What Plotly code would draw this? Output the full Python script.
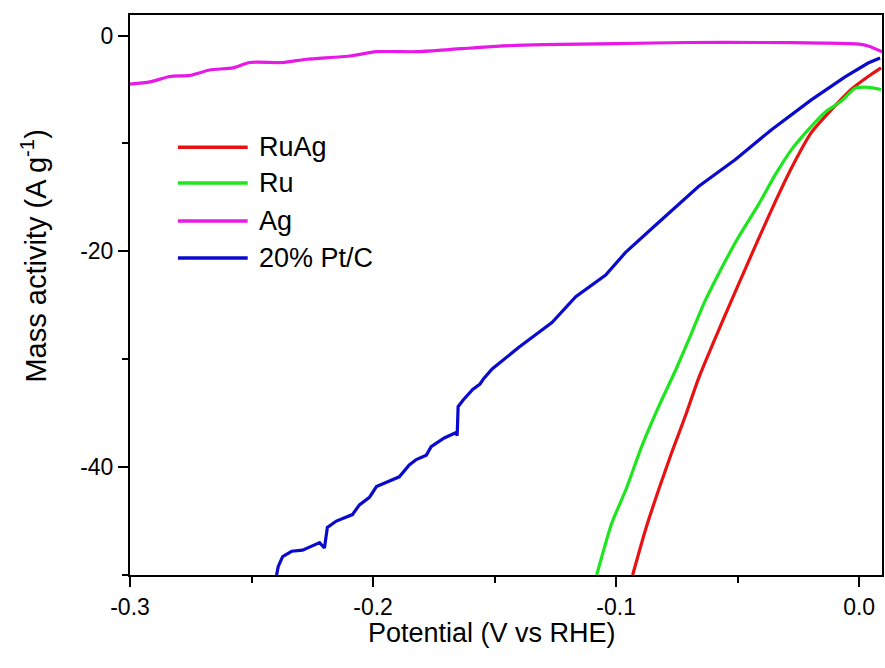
import plotly.graph_objects as go

# Linear sweep voltammetry: mass activity vs potential
ruag_v = [-0.0932, -0.0879, -0.0825, -0.0772, -0.0714, -0.0661, -0.0591, -0.0530,
          -0.0468, -0.0415, -0.0345, -0.0279, -0.0197, -0.0115, -0.0033, 0.0037, 0.0090]
ruag_j = [-50.0, -45.8, -42.1, -38.7, -35.2, -31.8, -28.0, -24.8,
          -21.6, -18.9, -15.4, -12.3, -9.0, -6.9, -5.0, -3.8, -3.0]

ru_v = [-0.1080, -0.1018, -0.0960, -0.0895, -0.0825, -0.0755, -0.0690, -0.0640,
        -0.0567, -0.0497, -0.0415, -0.0345, -0.0279, -0.0210, -0.0140, -0.0074,
        -0.0017, 0.0037, 0.0090]
ru_j = [-50.0, -45.2, -42.1, -38.1, -34.4, -31.0, -27.6, -24.9,
        -21.6, -18.7, -15.7, -12.9, -10.6, -8.75, -7.1, -6.1,
        -4.9, -4.8, -5.0]

ag_v = [-0.3000, -0.2918, -0.2836, -0.2754, -0.2672, -0.2577, -0.2508, -0.2372,
        -0.2274, -0.2097, -0.1986, -0.1822, -0.1687, -0.1494, -0.1300, -0.1000,
        -0.0700, -0.0400, -0.0150, 0.0000, 0.0040, 0.0094]
ag_j = [-4.5, -4.3, -3.8, -3.7, -3.2, -3.0, -2.5, -2.5,
        -2.2, -1.9, -1.5, -1.5, -1.3, -1.0, -0.85, -0.75,
        -0.65, -0.65, -0.7, -0.8, -1.0, -1.5]

ptc_v = [-0.2397, -0.2390, -0.2372, -0.2335, -0.2290, -0.2261, -0.2220, -0.2200,
         -0.2188, -0.2151, -0.2085, -0.2056, -0.2015, -0.1986, -0.1954, -0.1892,
         -0.1851, -0.1822, -0.1781, -0.1761, -0.1707, -0.1658, -0.1654, -0.1650,
         -0.1630, -0.1590, -0.1560, -0.1545, -0.1510, -0.1400, -0.1264, -0.1166,
         -0.1043, -0.0961, -0.0829, -0.0661, -0.0509, -0.0362, -0.0197, -0.0058,
         0.0037, 0.0086]
ptc_j = [-50.0, -49.2, -48.3, -47.8, -47.7, -47.4, -47.0, -47.5,
         -45.6, -45.0, -44.4, -43.5, -42.8, -41.8, -41.5, -40.9,
         -39.8, -39.3, -38.9, -38.1, -37.3, -36.8, -37.1, -34.4,
         -33.8, -32.8, -32.3, -31.8, -30.9, -28.9, -26.6, -24.2,
         -22.2, -20.1, -17.4, -14.0, -11.5, -8.75, -5.97, -3.84,
         -2.55, -2.08]

series = [
    ("RuAg", ruag_v, ruag_j, "#E81212", "spline"),
    ("Ru", ru_v, ru_j, "#1EE61E", "spline"),
    ("Ag", ag_v, ag_j, "#E619E6", "spline"),
    ("20% Pt/C", ptc_v, ptc_j, "#0A0ACD", "linear"),
]

x_ticks = [-0.3, -0.2, -0.1, 0.0]
x_tick_text = ["-0.3", "-0.2", "-0.1", "0.0"]
y_ticks = [0, -20, -40]
y_tick_text = ["0", "-20", "-40"]

FONT = "Arial, Liberation Sans, sans-serif"

fig = go.Figure()
for name, v, j, c, shape in series:
    fig.add_trace(go.Scatter(x=v, y=j, mode="lines", name=name,
                             line=dict(color=c, width=3.2, shape=shape, smoothing=0.6),
                             showlegend=False))

# Hand-placed legend: colored line samples plus labels
leg_y = [0.764, 0.700, 0.632, 0.566]
shapes, annots = [], []
for (name, _, _, c, _), yy in zip(series, leg_y):
    shapes.append(dict(type="line", xref="paper", yref="paper",
                       x0=0.0637, x1=0.1565, y0=yy, y1=yy,
                       line=dict(color=c, width=3.5)))
    annots.append(dict(xref="paper", yref="paper", x=0.1684, y=yy, text=name,
                       showarrow=False, xanchor="left", yanchor="middle",
                       font=dict(size=27, color="black", family=FONT)))

# Axis titles
annots.append(dict(xref="paper", yref="paper", x=0.481, y=-0.1036,
                   text="Potential (V vs RHE)", showarrow=False,
                   xanchor="center", yanchor="middle",
                   font=dict(size=27, color="black", family=FONT)))
annots.append(dict(xref="paper", yref="paper", x=-0.128, y=0.570,
                   text="Mass activity (A g<sup>-1</sup>)", showarrow=False,
                   textangle=-90, xanchor="center", yanchor="middle",
                   font=dict(size=29, color="black", family=FONT)))

fig.update_layout(
    width=885, height=668,
    margin=dict(l=130, r=1, t=15, b=93),
    paper_bgcolor="white", plot_bgcolor="white",
    font=dict(family=FONT, color="black"),
    shapes=shapes, annotations=annots,
)
fig.update_xaxes(
    range=[-0.3, 0.0094], tickvals=x_ticks, ticktext=x_tick_text,
    ticks="outside", ticklen=10, tickwidth=2, tickcolor="black",
    minor=dict(dtick=0.05, tick0=-0.3, ticks="outside", ticklen=6, tickwidth=2, tickcolor="black"),
    showline=True, linewidth=2, linecolor="black", mirror=True,
    showgrid=False, zeroline=False, tickfont=dict(size=23),
)
fig.update_yaxes(
    range=[-50, 1.9], tickvals=y_ticks, ticktext=y_tick_text,
    ticks="outside", ticklen=10, tickwidth=2, tickcolor="black",
    minor=dict(dtick=10, tick0=0, ticks="outside", ticklen=6, tickwidth=2, tickcolor="black"),
    showline=True, linewidth=2, linecolor="black", mirror=True,
    showgrid=False, zeroline=False, tickfont=dict(size=23),
)

fig.write_html("out.html")
